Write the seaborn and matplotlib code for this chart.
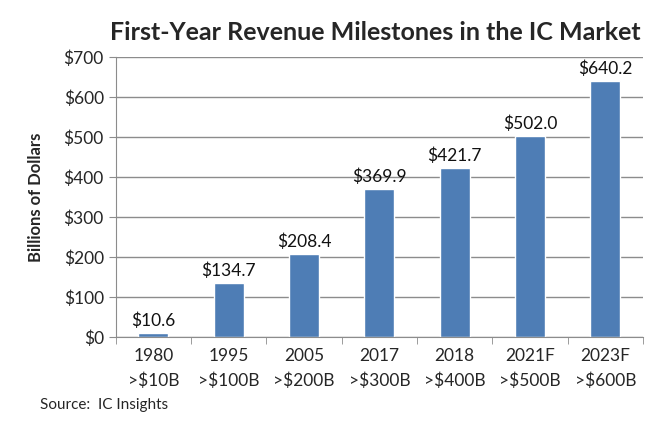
import numpy as np
import pandas as pd
import seaborn as sns
import matplotlib.pyplot as plt

years = ["1980", "1995", "2005", "2017", "2018", "2021F", "2023F"]
milestones = [">$10B", ">$100B", ">$200B", ">$300B", ">$400B", ">$500B", ">$600B"]
revenue = [10.6, 134.7, 208.4, 369.9, 421.7, 502.0, 640.2]

sns.set_style("white")
plt.rcParams['font.family'] = ['Lato', 'DejaVu Sans']

df = pd.DataFrame({"label": [y + "\n" + m for y, m in zip(years, milestones)],
                   "revenue": revenue})

fig = plt.figure(figsize=(6.65, 4.33), dpi=100)
ax = fig.add_axes([0.174, 0.222, 0.793, 0.646])

sns.barplot(data=df, x="label", y="revenue", color="#4E7DB5", saturation=1,
            width=0.4, ax=ax)

# value labels above bars
for i, v in enumerate(revenue):
    ax.text(i, v + 10, "${:.1f}".format(v), ha="center", va="bottom",
            fontsize=12.5, color="#111111")

ax.set_ylim(0, 700)
ax.set_xlim(-0.5, len(years) - 0.5)
ax.set_yticks(range(0, 701, 100))
ax.set_yticklabels(["${}".format(t) for t in range(0, 701, 100)], fontsize=12.5)
ax.yaxis.grid(True, color="#8c8c8c", linewidth=1)
ax.set_axisbelow(True)

ax.set_xticks(range(len(years)))
ax.set_xticklabels(df["label"], fontsize=12.5, linespacing=1.6)
ax.tick_params(axis="x", length=0, pad=8)
ax.tick_params(axis="y", length=5, color="#8c8c8c", direction="out", left=True)
# category separator ticks (Excel style)
ax.set_xticks(np.arange(-0.5, len(years), 1), minor=True)
ax.tick_params(axis="x", which="minor", length=5, color="#8c8c8c", bottom=True)

for s in ["top", "right"]:
    ax.spines[s].set_visible(False)
for s in ["left", "bottom"]:
    ax.spines[s].set_color("#8c8c8c")

ax.set_xlabel("")
ax.set_ylabel("Billions of Dollars", fontsize=12, fontweight="bold", labelpad=14)

fig.text(0.565, 0.925, "First-Year Revenue Milestones in the IC Market",
         ha="center", va="center", fontsize=18, fontweight="bold")
fig.text(0.06, 0.065, "Source:  IC Insights", fontsize=11, ha="left", va="center")

fig.savefig("out.png", dpi=100)
